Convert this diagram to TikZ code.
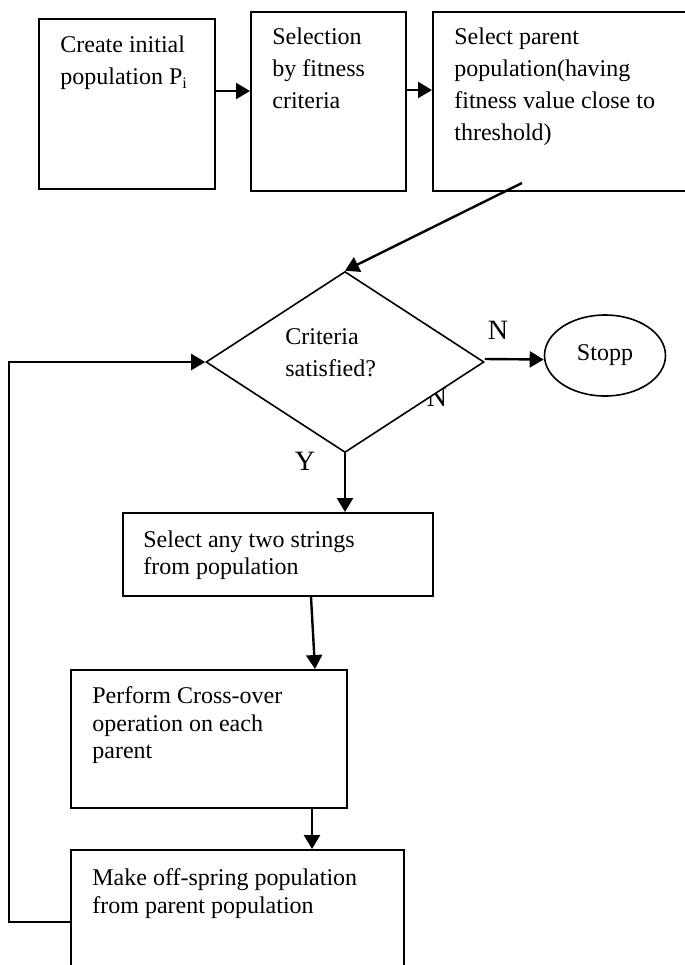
\documentclass[tikz,border=0pt]{standalone}
\usepackage{fontspec}
\setmainfont{Liberation Serif}
\usetikzlibrary{shapes.geometric,arrows.meta}
\begin{document}
\begin{tikzpicture}[x=0.5pt,y=-0.5pt,
  box/.style={draw, rectangle, line width=1pt, inner sep=0pt},
  txt/.style={anchor=north west, inner sep=0pt, align=left},
  tsixteen/.style={font=\fontsize{12}{16}\selectfont},
  tfourteen/.style={font=\fontsize{12}{13.8}\selectfont},
  arr/.style={line width=1.2pt, -{Triangle[length=7pt,width=8pt]}},
  lbl/.style={font=\fontsize{14}{16}\selectfont, inner sep=0pt}]
\clip (0,0) rectangle (685,965);
% top row of boxes
\node[box, minimum width=88pt, minimum height=85pt] (b1) at (127,104) {};
\node[box, minimum width=77.5pt, minimum height=89.5pt] (b2) at (328.5,101.5) {};
\node[box, minimum width=133.5pt, minimum height=89.5pt] (b3) at (566.5,101.5) {};
\node[txt, tsixteen] (t1) at (60,29.6) {\strut Create initial\\population P\textsubscript{i}};
\node[txt, tsixteen] (t2) at (272,21.6) {\strut Selection\\by fitness\\criteria};
\node[txt, tsixteen] (t3) at (454,21.6) {\strut Select parent\\population(having\\fitness value close to\\threshold)};
% label partly hidden by the diamond
\node[lbl] (n2) at (437,397) {N};
% decision
\node[draw, diamond, fill=white, line width=0.8pt, inner sep=0pt,
      minimum width=139pt, minimum height=90.5pt] (dia) at (345,362) {};
\node[txt, tsixteen] (td) at (285,321.6) {\strut Criteria\\satisfied?};
\node[draw, ellipse, line width=0.8pt, inner sep=0pt, minimum width=60.5pt,
      minimum height=40.5pt, font=\fontsize{12}{14}\selectfont] (stop) at (605,355.5) {Stopp};
\node[lbl] (n1) at (498,330) {N};
\node[lbl] (y) at (305,461) {Y};
% lower boxes
\node[box, minimum width=155pt, minimum height=41.5pt] (b4) at (278,554.5) {};
\node[box, minimum width=138pt, minimum height=69pt] (b5) at (209,739) {};
\node[box, minimum width=166.5pt, minimum height=72pt] (b6) at (237.5,922) {};
\node[txt, tfourteen] (t4) at (143,527.4) {\strut Select any two strings\\from population};
\node[txt, tfourteen] (t5) at (92,683.7) {\strut Perform Cross-over\\operation on each\\parent};
\node[txt, tfourteen] (t6) at (92,865.7) {\strut Make off-spring population\\from parent population};
% connectors
\draw[arr] ([yshift=6.5pt]b1.east) -- ([yshift=5.25pt]b2.west);
\draw[arr] ([yshift=5.75pt]b2.east) -- ([yshift=5.75pt]b3.west);
\coordinate (d0) at (522,183);
\draw[arr] (d0) -- (dia.north);
\draw[arr] ([yshift=1.5pt]dia.east) -- ([yshift=-2pt]stop.west);
\draw[arr] (dia.south) -- (dia.south |- b4.north);
\draw[arr] ([xshift=16.5pt]b4.south) -- ([xshift=53pt]b5.north);
\draw[arr] ([xshift=51.5pt]b5.south) -- ([xshift=37.25pt]b6.north);
\coordinate (lp) at (9,922);
\draw[arr] (b6.west) -- (lp) |- (dia.west);
\end{tikzpicture}
\end{document}
